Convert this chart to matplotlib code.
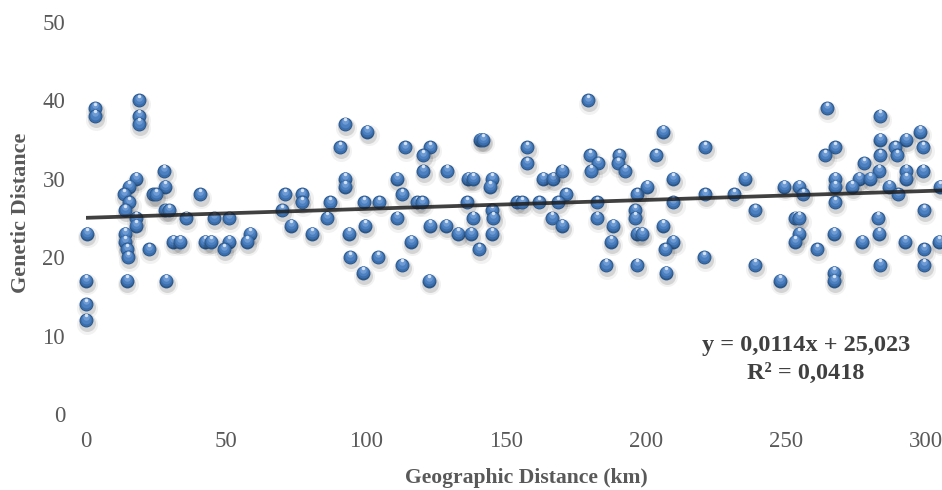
import numpy as np
import matplotlib
matplotlib.use("Agg")
import matplotlib.pyplot as plt
from matplotlib.transforms import ScaledTranslation

# geographic distance (km) vs genetic distance
geo_km = [0.2, 0, 0, 0, 3.2, 3.2, 19.0, 19.0, 19.0, 28.0, 17.9, 15.5, 13.7, 28.2, 23.8, 25.0, 40.7,
          15.5, 14.0, 28.2, 29.5, 17.9, 17.9, 35.7, 45.7, 51.2, 14.0, 14.0, 14.5, 15.0, 22.6,
          31.2, 33.6, 42.5, 44.8, 50.9, 49.3, 58.6, 57.4, 14.5, 28.6,
          92.5, 100.5, 90.7, 113.9, 122.9, 120.5, 120.5, 128.8, 92.5, 92.5, 111.2, 113.0, 71.1,
          77.0, 77.0, 87.1, 99.3, 104.8, 118.1, 119.9, 70.1, 86.0, 111.2, 73.2, 99.6, 122.9,
          128.6, 80.8, 94.0, 116.2, 94.3, 104.4, 112.9, 99.0, 122.6,
          179.4, 140.7, 141.9, 157.6, 157.6, 136.5, 138.3, 144.9, 144.3, 163.1, 166.7, 169.9,
          180.0, 183.0, 180.2, 190.4, 190.1, 192.5, 171.4, 136.2, 153.8, 155.6, 161.9, 168.7,
          182.6, 196.7, 144.9, 145.5, 138.3, 166.3, 182.6, 196.1, 196.1, 133.0, 137.4, 144.9,
          169.9, 188.3, 196.7, 140.5, 187.5, 185.7, 196.7,
          206.0, 221.1, 203.6, 209.8, 235.4, 249.3, 200.5, 221.1, 231.5, 209.8, 238.9, 206.2,
          198.5, 209.8, 206.8, 220.7, 238.9, 207.1, 247.9,
          264.5, 283.6, 297.9, 283.6, 292.9, 267.5, 288.9, 298.8, 263.9, 283.6, 289.5, 277.9,
          283.3, 292.9, 298.8, 267.5, 276.2, 279.9, 292.9, 267.5, 273.5, 286.9, 254.8, 256.2,
          290.1, 305.0, 267.5, 299.3, 253.2, 254.8, 282.7, 254.8, 253.2, 267.1, 283.3, 261.0,
          277.0, 292.5, 299.3, 304.8, 283.6, 299.3, 267.1, 267.1]
gen_dist = [23, 17, 14, 12, 39, 38, 40, 38, 37, 31, 30, 29, 28, 29, 28, 28, 28,
            27, 26, 26, 26, 25, 24, 25, 25, 25, 23, 22, 21, 20, 21,
            22, 22, 22, 22, 22, 21, 23, 22, 17, 17,
            37, 36, 34, 34, 34, 33, 31, 31, 30, 29, 30, 28, 28,
            28, 27, 27, 27, 27, 27, 27, 26, 25, 25, 24, 24, 24,
            24, 23, 23, 22, 20, 20, 19, 18, 17,
            40, 35, 35, 34, 32, 30, 30, 30, 29, 30, 30, 31,
            33, 32, 31, 33, 32, 31, 28, 27, 27, 27, 27, 27,
            27, 28, 26, 25, 25, 25, 25, 26, 25, 23, 23, 23,
            24, 24, 23, 21, 22, 19, 19,
            36, 34, 33, 30, 30, 29, 29, 28, 28, 27, 26, 24,
            23, 22, 21, 20, 19, 18, 17,
            39, 38, 36, 35, 35, 34, 34, 34, 33, 33, 33, 32,
            31, 31, 31, 30, 30, 30, 30, 29, 29, 29, 29, 28,
            28, 29, 27, 26, 25, 25, 25, 23, 22, 23, 23, 21,
            22, 22, 21, 22, 19, 19, 18, 17]

slope = 0.0114
intercept = 25.023
r2 = 0.0418

serif = "Liberation Serif"
fig = plt.figure(figsize=(9.42, 4.9), dpi=100)
ax = fig.add_axes([86 / 942, 1 - 414 / 490, 1 - 86 / 942, (414 - 22) / 490])

ax.set_xlim(0, (942 - 86) / 2.8)
ax.set_ylim(0, 50)


def shifted(dx, dy):
    # offset in points, so the sphere layers stack up like a shaded ball
    return ax.transData + ScaledTranslation(dx / 72, dy / 72, fig.dpi_scale_trans)


layers = [
    # (size, colour, alpha, dx, dy)
    (230, "#000000", 0.05, 0.8, -2.6),
    (150, "#000000", 0.12, 0.6, -2.2),
    (100, "#2A5587", 1.0, 0, 0),
    (78, "#3A6DAA", 1.0, 0, 0.3),
    (50, "#4C80C0", 1.0, 0, 1.0),
    (22, "#6E9BD3", 1.0, 0, 2.0),
    (6, "#D5E3F4", 1.0, 0, 3.3),
]

for xi, yi in zip(geo_km, gen_dist):
    for s, col, a, dx, dy in layers:
        ax.scatter([xi], [yi], s=s, c=col, alpha=a, linewidths=0,
                   transform=shifted(dx, dy), clip_on=False, zorder=2)

xs = np.array([0, 320])
ax.plot(xs, slope * xs + intercept, color="#1E1E1E", lw=2.7, alpha=0.85, zorder=3)

for sp in ax.spines.values():
    sp.set_visible(False)
ax.set_xticks(np.arange(0, 301, 50))
ax.set_yticks(np.arange(0, 51, 10))
ax.tick_params(length=0, labelsize=16.5, colors="#595959")
ax.tick_params(axis="y", pad=15)
ax.tick_params(axis="x", pad=12.5)
for lab in ax.get_xticklabels() + ax.get_yticklabels():
    lab.set_family(serif)

fig.text(526 / 942, 1 - 483 / 490, "Geographic Distance (km)", ha="center", va="baseline",
         family=serif, fontweight="bold", fontsize=15.6, color="#595959")
fig.text(21 / 942, 1 - 213 / 490, "Genetic Distance", ha="center", va="center", rotation=90,
         family=serif, fontweight="bold", fontsize=16, color="#595959")

fmt = lambda v: str(v).replace(".", ",")
fig.text(806 / 942, 1 - 345 / 490, "y = {}x + {}".format(fmt(slope), fmt(intercept)),
         ha="center", va="center", family=serif, fontweight="bold", fontsize=17.5,
         color="#404040")
fig.text(806 / 942, 1 - 373 / 490, "R² = {}".format(fmt(r2)),
         ha="center", va="center", family=serif, fontweight="bold", fontsize=17.5,
         color="#404040")

fig.savefig("out.png", dpi=100)
